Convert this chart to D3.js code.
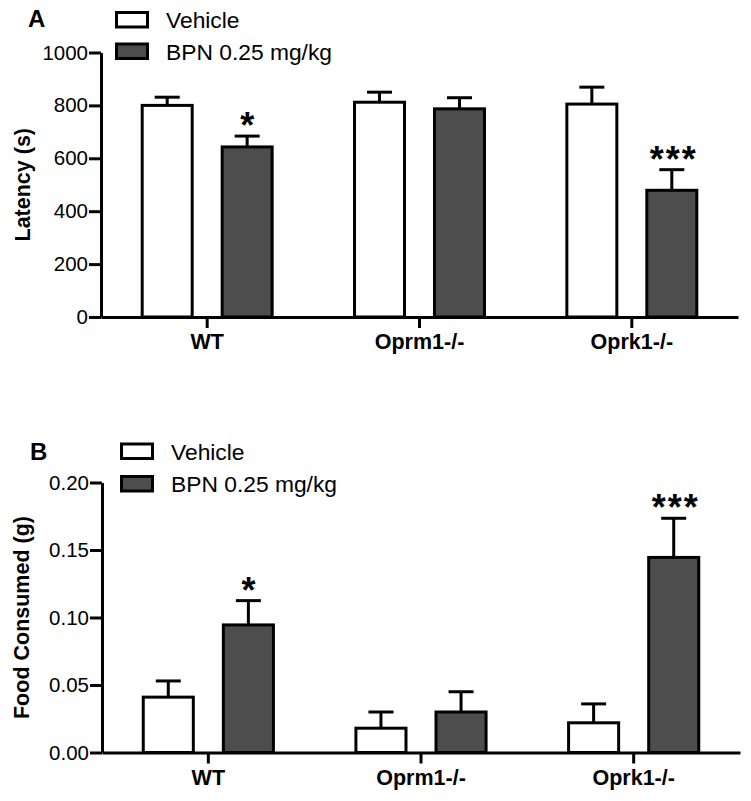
<!DOCTYPE html>
<html>
<head>
<meta charset="utf-8">
<script src="https://cdn.jsdelivr.net/npm/d3@7"></script>
<style>
  html, body { margin: 0; padding: 0; background: #fff; }
  svg { display: block; }
  text { font-family: "Liberation Sans", Arial, Helvetica, sans-serif; fill: #000; }
</style>
</head>
<body>
<svg id="chart" width="751" height="801"></svg>
<script>
// ---- data ----
const groups = ["WT", "Oprm1-/-", "Oprk1-/-"];
const seriesNames = ["Vehicle", "BPN 0.25 mg/kg"];

const latencyVehicle   = [800, 812, 805];
const latencyVehicleSE = [31, 38, 64];
const latencyBPN       = [643, 787, 479];
const latencyBPNSE     = [41, 42, 78];
const latencyTicks     = [0, 200, 400, 600, 800, 1000];

const foodVehicle   = [0.041, 0.018, 0.022];
const foodVehicleSE = [0.012, 0.012, 0.014];
const foodBPN       = [0.0945, 0.030, 0.1445];
const foodBPNSE     = [0.018, 0.015, 0.029];
const foodTicks     = [0.00, 0.05, 0.10, 0.15, 0.20];

const sigVehicle = ["", "", ""];
const sigBPN     = ["*", "", "***"];

const seriesFill = ["#ffffff", "#4d4d4d"];

const svg = d3.select("#chart");
svg.append("rect").attr("width", 751).attr("height", 801).attr("fill", "#fff");

function panel(cfg) {
  const g = svg.append("g");
  const x0 = d3.scaleBand().domain(groups).range([cfg.xLeft, cfg.xRight]).padding(0);
  const x1 = d3.scaleBand().domain(seriesNames).range([0, x0.bandwidth()])
    .paddingInner(0.375).paddingOuter(0.515);
  const y = d3.scaleLinear().domain(cfg.domain).range([cfg.yBottom, cfg.yTop]);

  const rows = [];
  groups.forEach((grp, i) => {
    rows.push({grp, s: seriesNames[0], v: cfg.veh[i], se: cfg.vehSE[i], sig: sigVehicle[i], fill: seriesFill[0]});
    rows.push({grp, s: seriesNames[1], v: cfg.bpn[i], se: cfg.bpnSE[i], sig: sigBPN[i], fill: seriesFill[1]});
  });

  // error bars (upper only)
  const capW = 25;
  rows.forEach(d => {
    const cx = x0(d.grp) + x1(d.s) + x1.bandwidth() / 2;
    g.append("line").attr("x1", cx).attr("x2", cx)
      .attr("y1", y(d.v)).attr("y2", y(d.v + d.se))
      .attr("stroke", "#000").attr("stroke-width", 3);
    g.append("line").attr("x1", cx - capW / 2).attr("x2", cx + capW / 2)
      .attr("y1", y(d.v + d.se)).attr("y2", y(d.v + d.se))
      .attr("stroke", "#000").attr("stroke-width", 3);
    if (d.sig) {
      g.append("text").attr("x", cx + (d.sig.length > 1 ? 2 : 0)).attr("y", y(d.v + d.se) + 2)
        .attr("text-anchor", "middle").attr("font-size", 36).attr("font-weight", "bold")
        .attr("letter-spacing", d.sig.length > 1 ? 2 : 0)
        .text(d.sig);
    }
  });

  // bars
  g.selectAll("rect.bar").data(rows).enter().append("rect")
    .attr("class", "bar")
    .attr("x", d => x0(d.grp) + x1(d.s))
    .attr("width", x1.bandwidth())
    .attr("y", d => y(d.v))
    .attr("height", d => y(cfg.domain[0]) - y(d.v))
    .attr("fill", d => d.fill)
    .attr("stroke", "#000").attr("stroke-width", 3);

  // y axis
  const yAxis = d3.axisLeft(y).tickValues(cfg.ticks).tickFormat(cfg.fmt)
    .tickSize(12).tickSizeOuter(0).tickPadding(1);
  const ya = g.append("g").attr("transform", `translate(${cfg.xLeft},0)`).call(yAxis);
  ya.select(".domain").attr("stroke-width", 3).attr("stroke", "#000");
  ya.selectAll(".tick line").attr("stroke-width", 3).attr("stroke", "#000");
  ya.selectAll(".tick text").attr("font-size", 20.5).attr("font-family", "Liberation Sans, Arial, sans-serif").attr("fill", "#000");

  // x axis
  const xAxis = d3.axisBottom(x0).tickSize(11).tickSizeOuter(0).tickPadding(6);
  const xa = g.append("g").attr("transform", `translate(0,${cfg.yBottom})`).call(xAxis);
  xa.select(".domain").attr("stroke-width", 3).attr("stroke", "#000");
  xa.selectAll(".tick line").attr("stroke-width", 3).attr("stroke", "#000");
  xa.selectAll(".tick text").attr("font-size", 21.5).attr("font-weight", "bold")
    .attr("font-family", "Liberation Sans, Arial, sans-serif").attr("fill", "#000");

  // y title
  g.append("text")
    .attr("transform", `translate(${cfg.titleX},${(cfg.yTop + cfg.yBottom) / 2}) rotate(-90)`)
    .attr("text-anchor", "middle").attr("font-size", 21.5).attr("font-weight", "bold")
    .text(cfg.title);

  // panel letter
  g.append("text").attr("x", cfg.letterX).attr("y", cfg.letterY)
    .attr("font-size", 24).attr("font-weight", "bold").text(cfg.letter);

  // legend
  seriesNames.forEach((s, i) => {
    const ly = cfg.legendY[i];
    g.append("rect").attr("x", cfg.legendX + 1.5).attr("y", ly - 15.5)
      .attr("width", 31).attr("height", 14.5)
      .attr("fill", seriesFill[i]).attr("stroke", "#000").attr("stroke-width", 3);
    g.append("text").attr("x", cfg.legendX + 51).attr("y", ly)
      .attr("font-size", 22.8).text(s);
  });
}

panel({
  xLeft: 101, xRight: 738, yTop: 52.5, yBottom: 317,
  domain: [0, 1000], ticks: latencyTicks, fmt: d3.format("d"),
  veh: latencyVehicle, vehSE: latencyVehicleSE, bpn: latencyBPN, bpnSE: latencyBPNSE,
  title: "Latency (s)", titleX: 30,
  letter: "A", letterX: 28, letterY: 27,
  legendX: 115, legendY: [28, 59.5]
});

panel({
  xLeft: 102, xRight: 740, yTop: 482.5, yBottom: 752.5,
  domain: [0, 0.2], ticks: foodTicks, fmt: d3.format(".2f"),
  veh: foodVehicle, vehSE: foodVehicleSE, bpn: foodBPN, bpnSE: foodBPNSE,
  title: "Food Consumed (g)", titleX: 29,
  letter: "B", letterX: 30, letterY: 460,
  legendX: 120, legendY: [459.5, 492]
});
</script>
</body>
</html>
